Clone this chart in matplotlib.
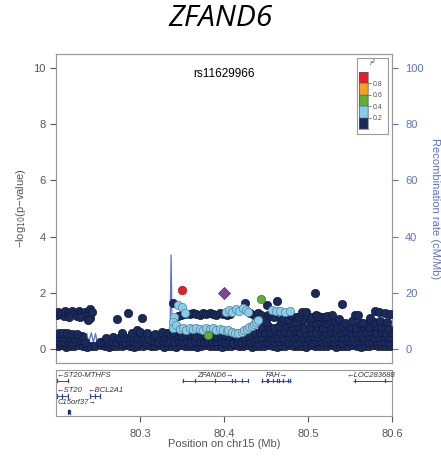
import matplotlib
matplotlib.use("Agg")
import matplotlib.pyplot as plt
from matplotlib.patches import Rectangle

plt.rcParams["font.family"] = ["Liberation Sans", "DejaVu Sans"]

# SNP positions (Mb) and -log10(p), grouped by LD r2 with the lead SNP
navy_snps = [
    # left upper band
    (80.201, 1.20), (80.202, 1.32), (80.206, 1.25), (80.209, 1.18), (80.211, 1.35),
    (80.214, 1.27), (80.217, 1.20), (80.219, 1.34), (80.222, 1.26), (80.225, 1.19),
    (80.227, 1.36), (80.230, 1.28), (80.232, 1.21), (80.235, 1.33), (80.238, 1.25),
    (80.240, 1.43), (80.236, 1.16), (80.241, 1.10), (80.238, 1.03), (80.243, 1.30),
    (80.228, 1.14), (80.215, 1.12),
    # isolated
    (80.273, 1.07), (80.286, 1.28), (80.302, 1.10),
    # left lower band
    (80.202, 0.10), (80.207, 0.13), (80.212, 0.08), (80.217, 0.12), (80.222, 0.09),
    (80.227, 0.14), (80.232, 0.10), (80.237, 0.08), (80.242, 0.12), (80.247, 0.09),
    (80.253, 0.13), (80.258, 0.10), (80.263, 0.08), (80.268, 0.12), (80.273, 0.11),
    (80.278, 0.09), (80.283, 0.13), (80.288, 0.10), (80.293, 0.08), (80.298, 0.12),
    (80.303, 0.10), (80.308, 0.14), (80.313, 0.09), (80.318, 0.11), (80.323, 0.13),
    (80.328, 0.08), (80.333, 0.12),
    (80.204, 0.28), (80.209, 0.24), (80.214, 0.30), (80.219, 0.22), (80.224, 0.27),
    (80.229, 0.31), (80.234, 0.25), (80.252, 0.26), (80.257, 0.30), (80.262, 0.23),
    (80.267, 0.28), (80.272, 0.25), (80.277, 0.31), (80.282, 0.24), (80.287, 0.27),
    (80.292, 0.30), (80.297, 0.22), (80.302, 0.28), (80.307, 0.25), (80.312, 0.31),
    (80.317, 0.27), (80.322, 0.23), (80.327, 0.29), (80.332, 0.26),
    (80.201, 0.42), (80.206, 0.46), (80.211, 0.40), (80.216, 0.44), (80.221, 0.38),
    (80.226, 0.43), (80.231, 0.47), (80.260, 0.40), (80.268, 0.44), (80.275, 0.38),
    (80.281, 0.42), (80.289, 0.45), (80.296, 0.40), (80.303, 0.43), (80.309, 0.39),
    (80.316, 0.46), (80.321, 0.41), (80.328, 0.44), (80.334, 0.40),
    (80.203, 0.55), (80.208, 0.58), (80.213, 0.56), (80.219, 0.54), (80.225, 0.52),
    (80.279, 0.55), (80.290, 0.58), (80.296, 0.68), (80.300, 0.62), (80.308, 0.57),
    (80.318, 0.52), (80.326, 0.60), (80.332, 0.57),
    # middle region
    (80.338, 0.11), (80.343, 0.08), (80.348, 0.13), (80.353, 0.10), (80.358, 0.09),
    (80.363, 0.12), (80.368, 0.08), (80.373, 0.11), (80.378, 0.13), (80.383, 0.09),
    (80.388, 0.12), (80.393, 0.10), (80.398, 0.08), (80.403, 0.12), (80.408, 0.10),
    (80.413, 0.13), (80.418, 0.09),
    (80.336, 0.27), (80.341, 0.23), (80.346, 0.30), (80.351, 0.25), (80.356, 0.28),
    (80.361, 0.22), (80.366, 0.27), (80.371, 0.30), (80.376, 0.24), (80.381, 0.28),
    (80.386, 0.23), (80.391, 0.27), (80.396, 0.30), (80.401, 0.25), (80.406, 0.28),
    (80.411, 0.22), (80.416, 0.27),
    (80.340, 0.45), (80.345, 0.50), (80.350, 0.47), (80.355, 0.52), (80.360, 0.49),
    (80.366, 0.46), (80.372, 0.51), (80.377, 0.48), (80.386, 0.50), (80.391, 0.46),
    (80.396, 0.52), (80.401, 0.48), (80.406, 0.45), (80.411, 0.50), (80.416, 0.42),
    (80.336, 0.55), (80.339, 0.62), (80.3395, 1.63),
    (80.345, 1.16), (80.349, 1.22), (80.354, 1.26), (80.359, 1.24), (80.363, 1.29),
    (80.367, 1.25), (80.371, 1.22), (80.375, 1.27), (80.379, 1.24), (80.383, 1.28),
    (80.387, 1.25), (80.391, 1.22), (80.395, 1.27), (80.399, 1.24), (80.403, 1.20),
    (80.407, 1.25), (80.431, 1.28), (80.436, 1.22),
    (80.425, 1.65), (80.4508, 1.57), (80.4627, 1.71),
    # right region
    (80.423, 0.10), (80.428, 0.13), (80.433, 0.08), (80.438, 0.12), (80.443, 0.10),
    (80.448, 0.09), (80.453, 0.13), (80.458, 0.11), (80.463, 0.08), (80.468, 0.12),
    (80.473, 0.10), (80.478, 0.14), (80.483, 0.09), (80.488, 0.12), (80.493, 0.10),
    (80.498, 0.08), (80.503, 0.13), (80.508, 0.11), (80.513, 0.09), (80.518, 0.12),
    (80.523, 0.10), (80.528, 0.14), (80.533, 0.08), (80.538, 0.12), (80.543, 0.10),
    (80.548, 0.09), (80.553, 0.13), (80.558, 0.11), (80.563, 0.08), (80.568, 0.12),
    (80.573, 0.10), (80.578, 0.13), (80.583, 0.09), (80.588, 0.12), (80.593, 0.10),
    (80.598, 0.11),
    (80.421, 0.26), (80.426, 0.30), (80.431, 0.24), (80.436, 0.28), (80.441, 0.22),
    (80.446, 0.29), (80.451, 0.25), (80.456, 0.31), (80.461, 0.23), (80.466, 0.27),
    (80.471, 0.30), (80.476, 0.24), (80.481, 0.28), (80.486, 0.22), (80.491, 0.29),
    (80.496, 0.26), (80.501, 0.31), (80.506, 0.24), (80.511, 0.27), (80.516, 0.30),
    (80.521, 0.23), (80.526, 0.28), (80.531, 0.25), (80.536, 0.30), (80.541, 0.22),
    (80.546, 0.27), (80.551, 0.29), (80.556, 0.24), (80.561, 0.28), (80.566, 0.31),
    (80.571, 0.23), (80.576, 0.27), (80.581, 0.30), (80.586, 0.25), (80.591, 0.28),
    (80.596, 0.24),
    (80.424, 0.42), (80.430, 0.45), (80.439, 0.40), (80.445, 0.44), (80.452, 0.47),
    (80.458, 0.41), (80.464, 0.44), (80.470, 0.40), (80.476, 0.46), (80.482, 0.42),
    (80.488, 0.45), (80.494, 0.39), (80.500, 0.44), (80.506, 0.47), (80.512, 0.41),
    (80.518, 0.45), (80.524, 0.40), (80.530, 0.43), (80.536, 0.47), (80.542, 0.41),
    (80.548, 0.44), (80.554, 0.40), (80.560, 0.46), (80.566, 0.42), (80.572, 0.45),
    (80.578, 0.39), (80.584, 0.44), (80.590, 0.47), (80.596, 0.41),
    (80.437, 0.58), (80.443, 0.62), (80.449, 0.56), (80.455, 0.60), (80.461, 0.64),
    (80.467, 0.57), (80.473, 0.61), (80.479, 0.55), (80.485, 0.63), (80.491, 0.59),
    (80.497, 0.56), (80.503, 0.62), (80.509, 0.58), (80.515, 0.64), (80.521, 0.57),
    (80.527, 0.61), (80.533, 0.55), (80.539, 0.60), (80.545, 0.63), (80.551, 0.58),
    (80.557, 0.62), (80.563, 0.56), (80.569, 0.60), (80.575, 0.64), (80.581, 0.57),
    (80.587, 0.61), (80.593, 0.58), (80.599, 0.62),
    (80.445, 0.78), (80.452, 0.82), (80.459, 0.76), (80.466, 0.80), (80.474, 0.84),
    (80.481, 0.77), (80.488, 0.81), (80.495, 0.75), (80.502, 0.79), (80.511, 0.83),
    (80.518, 0.76), (80.526, 0.80), (80.534, 0.74), (80.541, 0.82), (80.549, 0.78),
    (80.557, 0.76), (80.565, 0.81), (80.572, 0.77), (80.580, 0.83), (80.588, 0.79),
    (80.595, 0.76),
    (80.440, 0.98), (80.450, 0.95), (80.468, 1.00), (80.478, 0.93), (80.486, 0.97),
    (80.494, 1.02), (80.503, 0.95), (80.5095, 0.93), (80.514, 0.99), (80.521, 0.92),
    (80.524, 1.03), (80.532, 1.01), (80.537, 1.05), (80.544, 0.94), (80.552, 0.98),
    (80.562, 0.92), (80.566, 0.93), (80.574, 1.03), (80.578, 0.97), (80.586, 1.00),
    (80.594, 0.95),
    (80.440, 1.27), (80.444, 1.22), (80.452, 1.21), (80.456, 1.16), (80.459, 1.14),
    (80.470, 1.10), (80.476, 1.03), (80.480, 1.20), (80.487, 1.14), (80.489, 1.12),
    (80.493, 1.31), (80.498, 1.31), (80.502, 1.08), (80.505, 1.12), (80.510, 1.21),
    (80.512, 1.18), (80.517, 1.15), (80.520, 1.12), (80.523, 1.17), (80.528, 1.20),
    (80.5556, 1.21), (80.5595, 1.21), (80.5734, 1.09), (80.5794, 1.36), (80.5850, 1.33),
    (80.5913, 1.29), (80.597, 1.25),
    (80.5083, 2.00), (80.541, 1.59),
]

lightblue_snps = [
    (80.3456, 1.56), (80.3496, 1.48), (80.3536, 1.28), (80.341, 1.15), (80.3397, 0.97),
    (80.3397, 0.74), (80.343, 0.85),
    (80.347, 0.70), (80.351, 0.74), (80.355, 0.69), (80.359, 0.73), (80.363, 0.70),
    (80.367, 0.75), (80.371, 0.71), (80.375, 0.68), (80.379, 0.73), (80.383, 0.70),
    (80.387, 0.74), (80.391, 0.69), (80.395, 0.72), (80.399, 0.68), (80.403, 0.64),
    (80.405, 0.66), (80.409, 0.62), (80.413, 0.58), (80.417, 0.56), (80.421, 0.60),
    (80.424, 0.66), (80.427, 0.71), (80.430, 0.77), (80.433, 0.83), (80.436, 0.90),
    (80.438, 0.97), (80.440, 1.03),
    (80.402, 1.30), (80.406, 1.38), (80.410, 1.33), (80.414, 1.42), (80.418, 1.36),
    (80.422, 1.44), (80.426, 1.39), (80.429, 1.31),
    (80.457, 1.40), (80.462, 1.36), (80.467, 1.34), (80.472, 1.33), (80.478, 1.36),
]

green_snps = [(80.3806, 0.48), (80.4438, 1.78)]
red_snps = [(80.350, 2.10)]
lead_snp = (80.4004, 2.00)
lead_name = "rs11629966"

# recombination rate (cM/Mb)
recomb_pos = [80.200, 80.215, 80.230, 80.2335, 80.2365, 80.2390, 80.2420, 80.2445,
              80.2470, 80.2500, 80.270, 80.300, 80.330, 80.3355, 80.3370, 80.3385,
              80.360, 80.400, 80.4280, 80.4285, 80.460, 80.490, 80.4905, 80.530,
              80.560, 80.600]
recomb_rate = [0.8, 0.9, 1.0, 1.4, 5.6, 2.1, 5.8, 2.2, 5.5, 1.2, 0.9, 0.7, 0.8, 1.2,
               33.5, 1.4, 1.3, 1.2, 1.2, 3.2, 3.1, 3.0, 0.8, 0.8, 1.0, 1.0]

# genes: name, start, end, strand, exon positions
genes = [
    ("ST20-MTHFS", 80.201, 80.214, "-", [80.201, 80.214]),
    ("ST20", 80.201, 80.2145, "-", [80.201, 80.207, 80.2145]),
    ("BCL2A1", 80.2405, 80.2525, "-", [80.2405, 80.246, 80.2525]),
    ("C15orf37", 80.2145, 80.2170, "+", [80.2145, 80.217]),
    ("ZFAND6", 80.350, 80.4286, "+", [80.351, 80.365, 80.389, 80.4095, 80.413, 80.421, 80.4286]),
    ("FAH", 80.4440, 80.480, "+", [80.445, 80.451, 80.452, 80.458, 80.463, 80.466, 80.470, 80.476, 80.478]),
    ("LOC283688", 80.554, 80.620, "-", [80.556, 80.592]),
]
# row and label anchor for each gene track
gene_rows = [0, 1, 1, 2, 0, 0, 0]
gene_label_x = [80.201, 80.201, 80.2375, 80.202, 80.3895, 80.4625, 80.5745]
gene_label_ha = ["left", "left", "left", "left", "center", "center", "center"]

ld_colors = ["#1B2A5E", "#87CEEB", "#5DAE35", "#F5A21E", "#E41F26"]
recomb_color = "#5F72C8"
axis_grey = "#555555"
frame_grey = "#9A9A9A"

fig = plt.figure(figsize=(4.41, 4.62), dpi=100)
ax = fig.add_axes([0.127, 0.2143, 0.762, 0.6688])
ax2 = ax.twinx()
ax.set_zorder(ax2.get_zorder() + 1)
ax.patch.set_visible(False)

ax2.plot(recomb_pos, recomb_rate, color=recomb_color, lw=0.9)
ax2.set_ylim(-5, 105)
ax2.set_yticks([0, 20, 40, 60, 80, 100])
ax2.tick_params(axis="y", colors=recomb_color, labelsize=8, length=4.5, width=0.8, pad=5)
ax2.set_ylabel("Recombination rate (cM/Mb)", color=recomb_color, fontsize=8,
               rotation=270, labelpad=12)

def draw(snps, color, edge):
    ax.scatter([s[0] for s in snps], [s[1] for s in snps], s=36, c=color,
               edgecolors=edge, linewidths=0.5, zorder=3)

draw(navy_snps, ld_colors[0], "#111a33")
draw(lightblue_snps, ld_colors[1], "#5a7f96")
draw(green_snps, ld_colors[2], "#3d7a22")
draw(red_snps, ld_colors[4], "#a01418")
ax.scatter([lead_snp[0]], [lead_snp[1]], s=38, marker="D", c="#7B4A9E",
           edgecolors="#4e2d66", linewidths=0.5, zorder=4)
ax.text(lead_snp[0], 9.8, lead_name, ha="center", va="center", fontsize=8.5)

ax.set_xlim(80.2, 80.6)
ax.set_ylim(-0.5, 10.5)
ax.set_yticks([0, 2, 4, 6, 8, 10])
ax.tick_params(axis="y", colors=axis_grey, labelsize=8, length=4.5, width=0.8, pad=3)
ax.tick_params(axis="x", bottom=False, labelbottom=False)
ax.set_ylabel("−log$_{10}$(p−value)", color=axis_grey, fontsize=8, labelpad=4)
for a in (ax, ax2):
    for sp in a.spines.values():
        sp.set_color(frame_grey)
        sp.set_linewidth(0.8)

# r2 legend
fig.add_artist(Rectangle((0.809, 0.710), 0.071, 0.1645, transform=fig.transFigure,
                         facecolor="white", edgecolor=frame_grey, lw=0.8, zorder=5))
lax = fig.add_axes([0.814, 0.7208, 0.0204, 0.124], zorder=6)
for i, c in enumerate(ld_colors):
    lax.bar(0, 0.2, bottom=i * 0.2, width=1, color=c, edgecolor="#555555", lw=0.3)
lax.set_xlim(-0.5, 0.5)
lax.set_ylim(0, 1)
lax.set_xticks([])
lax.set_yticks([0.2, 0.4, 0.6, 0.8])
lax.yaxis.tick_right()
lax.tick_params(axis="y", labelsize=5, colors=axis_grey, length=2.5, width=0.5, pad=1)
for sp in lax.spines.values():
    sp.set_linewidth(0.4)
    sp.set_color("#555555")
fig.text(0.846, 0.8615, "r²", fontsize=6, style="italic", color=axis_grey,
         ha="center", va="center", zorder=7)

# gene track
gax = fig.add_axes([0.127, 0.0996, 0.762, 0.0996])
gax.set_xlim(80.2, 80.6)
gax.set_ylim(46, 0)
row_line = [10.7, 26.0, 42.0]
row_label = [6.0, 21.0, 33.0]
for (name, start, end, strand, exons), row, lx, ha in zip(genes, gene_rows, gene_label_x, gene_label_ha):
    y = row_line[row]
    gax.plot([start, end], [y, y], color="#2E4A9A", lw=0.7, solid_capstyle="butt")
    for e in exons:
        gax.plot([e, e], [y - 1.6, y + 1.6], color="#2E4A9A", lw=0.9)
    label = "←" + name if strand == "-" else name + "→"
    gax.text(lx, row_label[row], label, ha=ha, va="center", fontsize=5.5,
             style="italic", color="#333333")
gax.plot([80.2145, 80.217], [row_line[2], row_line[2]], color="#1B2A5E", lw=3,
         solid_capstyle="butt")
gax.set_yticks([])
gax.set_xticks([80.3, 80.4, 80.5, 80.6])
gax.set_xticklabels(["80.3", "80.4", "80.5", "80.6"])
gax.tick_params(axis="x", colors=axis_grey, labelsize=8, length=4.5, width=0.8, pad=5)
gax.set_xlabel("Position on chr15 (Mb)", color=axis_grey, fontsize=8, labelpad=0)
for sp in gax.spines.values():
    sp.set_color(frame_grey)
    sp.set_linewidth(0.8)

fig.text(0.5, 1 - 18 / 462, "ZFAND6", ha="center", va="center", fontsize=21.5,
         style="italic", family=["Open Sans", "DejaVu Sans"])

fig.savefig("out.png", dpi=100)
